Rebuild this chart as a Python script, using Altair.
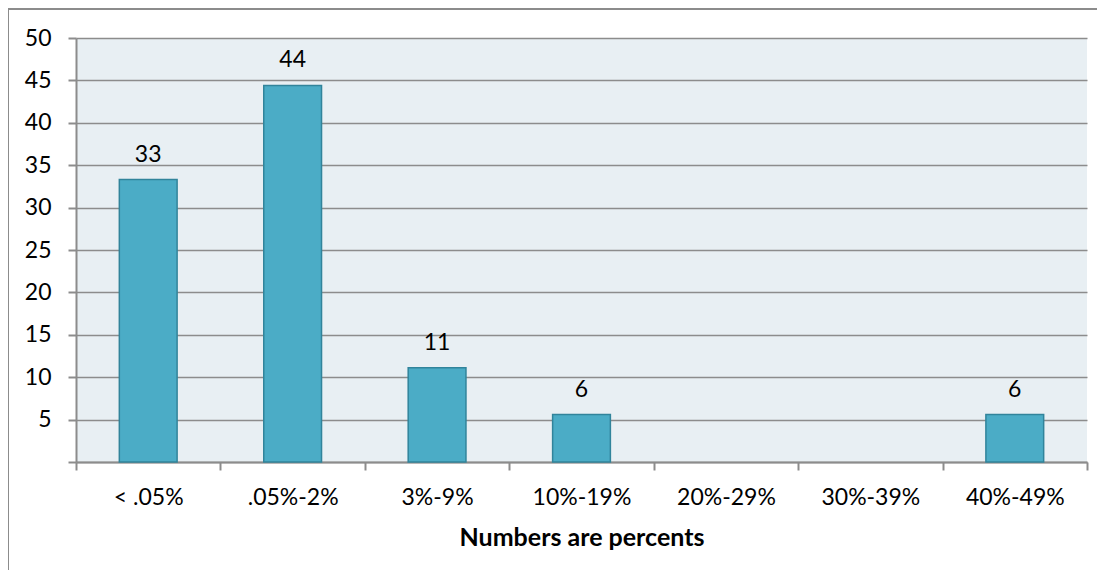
import altair as alt
import pandas as pd

categories = ["< .05%", ".05%-2%", "3%-9%", "10%-19%", "20%-29%", "30%-39%", "40%-49%"]
values = [33.3, 44.4, 11.1, 5.6, 0, 0, 5.6]
labels = ["33", "44", "11", "6", "", "", "6"]

df = pd.DataFrame({"cat": categories, "val": values, "lab": labels})

FONT = "Lato"
FS = 23
GRAY = "#8c8c8c"

x_enc = alt.X("cat:N", sort=categories,
              scale=alt.Scale(domain=categories, paddingInner=0, paddingOuter=0),
              axis=alt.Axis(title="Numbers are percents", labelAngle=0,
                            labelFontSize=FS, labelColor="#000000", labelFont=FONT,
                            titleFont=FONT, titleFontSize=25, titleFontWeight="bold",
                            titleColor="#000000", titlePadding=16,
                            domainColor=GRAY, domainWidth=2,
                            tickColor=GRAY, tickWidth=2, tickSize=8,
                            tickBand="extent", labelPadding=16, grid=False))

y_enc = alt.Y("val:Q", scale=alt.Scale(domain=[0, 50]),
              axis=alt.Axis(title=None, values=list(range(0, 55, 5)),
                            labelExpr="datum.value == 0 ? '' : datum.label",
                            labelFontSize=FS, labelColor="#000000", labelFont=FONT,
                            domainColor=GRAY, domainWidth=2,
                            tickColor=GRAY, tickWidth=2, tickSize=8, labelPadding=17,
                            gridColor=GRAY, gridWidth=1.5))

frame = alt.Chart(df.head(1)).mark_rect(fill="transparent", stroke=GRAY, strokeWidth=2, clip=False).encode(
    x=alt.value(-68), x2=alt.value(3000), y=alt.value(-29), y2=alt.value(3000)
)

base = alt.Chart(df).transform_filter("datum.val > 0")

bars = base.mark_bar(color="#4BACC6", stroke="#31849B", strokeWidth=1.5,
                     width=alt.RelativeBandSize(0.4)).encode(x=x_enc, y=y_enc)

text = base.mark_text(baseline="alphabetic", dy=-18, fontSize=FS, font=FONT, color="#000000").encode(
    x=x_enc,
    y=y_enc,
    text="lab:N",
)

chart = alt.layer(frame, bars, text).properties(
    width=1011, height=424,
    autosize=alt.AutoSizeParams(type="none"),
    padding={"left": 68, "top": 30, "right": 10, "bottom": 108},
    background="#ffffff",
).configure_view(fill="#E8EFF3", stroke=None)

chart.save("out.html", embed_options={"renderer": "svg", "actions": False})
